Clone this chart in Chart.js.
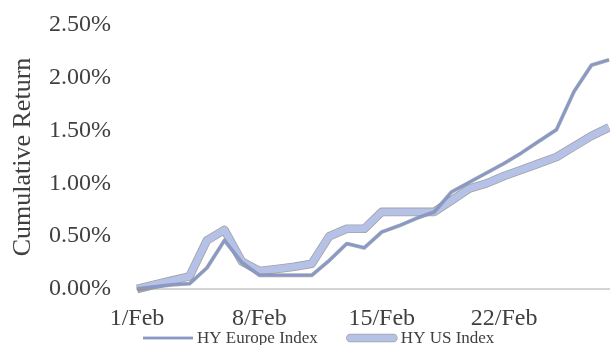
<!DOCTYPE html>
<html>
<head>
<meta charset="utf-8">
<script src="https://cdn.jsdelivr.net/npm/chart.js@4.4.1/dist/chart.umd.min.js"></script>
<style>
  html, body { margin: 0; padding: 0; background: #fff; overflow: hidden; }
  #wrap { width: 610px; height: 345px; }
</style>
</head>
<body>
<div id="wrap"><canvas id="c" width="610" height="345"></canvas></div>
<script>
// Daily dates for February
const days = ['1/Feb','2/Feb','3/Feb','4/Feb','5/Feb','6/Feb','7/Feb',
              '8/Feb','9/Feb','10/Feb','11/Feb','12/Feb','13/Feb','14/Feb',
              '15/Feb','16/Feb','17/Feb','18/Feb','19/Feb','20/Feb','21/Feb',
              '22/Feb','23/Feb','24/Feb','25/Feb','26/Feb','27/Feb','28/Feb'];

// Cumulative return, in percent
const hyEurope = [0.00, 0.02, 0.04, 0.05, 0.20, 0.46, 0.25,
                  0.13, 0.13, 0.13, 0.13, 0.27, 0.43, 0.39,
                  0.54, 0.60, 0.67, 0.73, 0.92, 1.01, 1.10,
                  1.19, 1.29, 1.40, 1.51, 1.87, 2.12, 2.17];
const hyUS =     [0.00, 0.04, 0.08, 0.12, 0.46, 0.56, 0.26,
                  0.17, 0.19, 0.21, 0.24, 0.50, 0.57, 0.57,
                  0.73, 0.73, 0.73, 0.73, 0.84, 0.95, 1.00,
                  1.07, 1.13, 1.19, 1.25, 1.35, 1.45, 1.53];

const seriesNames = ['HY Europe Index', 'HY US Index'];
const yTickValues = [0, 0.5, 1.0, 1.5, 2.0, 2.5];
const labelEvery = 7;

const SERIF = "'Liberation Serif', 'Times New Roman', serif";
const TEXT = '#404040';

const styles = [
  { color: '#8799ca', width: 2.6, outline: 'rgba(140,140,140,0.7)', outlineWidth: 3.8, cap: 'butt' },
  { color: '#b5c1e6', width: 7.0, outline: '#a3a3a3', outlineWidth: 8.6, cap: 'round' }
];

// Grey rim drawn under each line before the dataset itself
const rimPlugin = {
  id: 'rim',
  beforeDatasetDraw(chart, args) {
    const st = styles[args.index];
    const pts = args.meta.data;
    const ctx = chart.ctx;
    ctx.save();
    ctx.beginPath();
    pts.forEach((p, i) => i ? ctx.lineTo(p.x, p.y) : ctx.moveTo(p.x, p.y));
    ctx.lineWidth = st.outlineWidth;
    ctx.strokeStyle = st.outline;
    ctx.lineJoin = 'round';
    ctx.lineCap = 'butt';
    ctx.stroke();
    ctx.restore();
  }
};

// Series key along the bottom edge
const keyPlugin = {
  id: 'seriesKey',
  afterDraw(chart) {
    const ctx = chart.ctx;
    const area = chart.chartArea;
    const y = area.bottom + 49;
    let x = area.left + 6;
    ctx.save();
    ctx.font = '17px ' + SERIF;
    ctx.textBaseline = 'alphabetic';
    ctx.textAlign = 'left';
    seriesNames.forEach((name, i) => {
      const st = styles[i];
      const len = 50;
      ctx.lineCap = st.cap;
      ctx.beginPath();
      const inset = st.cap === 'round' ? st.width / 2 : 0;
      ctx.moveTo(x + inset, y);
      ctx.lineTo(x + len - inset, y);
      ctx.strokeStyle = st.outline;
      ctx.lineWidth = st.outlineWidth - (st.cap === 'round' ? 0 : 1.2);
      ctx.stroke();
      ctx.strokeStyle = st.color;
      ctx.lineWidth = st.width;
      ctx.stroke();
      ctx.fillStyle = TEXT;
      ctx.fillText(name, x + len + 4, y + 5);
      x += len + 4 + ctx.measureText(name).width + 29;
    });
    ctx.restore();
  }
};

new Chart(document.getElementById('c'), {
  type: 'line',
  data: {
    labels: days,
    datasets: [
      {
        label: seriesNames[0],
        data: hyEurope,
        borderColor: styles[0].color,
        borderWidth: styles[0].width,
        borderJoinStyle: 'round',
        pointRadius: 0,
        tension: 0,
        fill: false
      },
      {
        label: seriesNames[1],
        data: hyUS,
        borderColor: styles[1].color,
        borderWidth: styles[1].width,
        borderJoinStyle: 'round',
        pointRadius: 0,
        tension: 0,
        fill: false
      }
    ]
  },
  options: {
    responsive: false,
    animation: false,
    devicePixelRatio: 1,
    layout: { padding: { top: 25, right: 1, bottom: 0, left: 0 } },
    plugins: {
      legend: { display: false },
      tooltip: { enabled: false }
    },
    scales: {
      x: {
        type: 'category',
        offset: false,
        // invisible tick marks provide the gap between axis line and labels
        grid: { display: true, drawOnChartArea: false, drawTicks: true,
                tickLength: 15, lineWidth: 1, tickColor: 'rgba(0,0,0,0)', color: 'rgba(0,0,0,0)' },
        border: { display: true, color: '#d4d4d4', width: 2 },
        ticks: {
          autoSkip: false,
          maxRotation: 0,
          padding: 0,
          color: TEXT,
          font: { family: SERIF, size: 24 },
          callback: (v, i) => (i % labelEvery === 0 ? days[i] : '')
        },
        afterFit: (s) => { s.height = 56; }
      },
      y: {
        min: 0,
        max: 2.5,
        grid: { display: true, drawOnChartArea: false, drawTicks: true,
                tickLength: 26, lineWidth: 1, tickColor: 'rgba(0,0,0,0)', color: 'rgba(0,0,0,0)' },
        border: { display: false },
        afterBuildTicks: (s) => { s.ticks = yTickValues.map(v => ({ value: v })); },
        ticks: {
          padding: 0,
          color: TEXT,
          font: { family: SERIF, size: 24 },
          callback: (v) => Number(v).toFixed(2) + '%'
        },
        title: {
          display: true,
          text: 'Cumulative Return',
          color: TEXT,
          font: { family: SERIF, size: 26 },
          padding: { top: 8, bottom: 0 }
        },
        afterFit: (s) => { s.width = 137; }
      }
    }
  },
  plugins: [rimPlugin, keyPlugin]
});
</script>
</body>
</html>
